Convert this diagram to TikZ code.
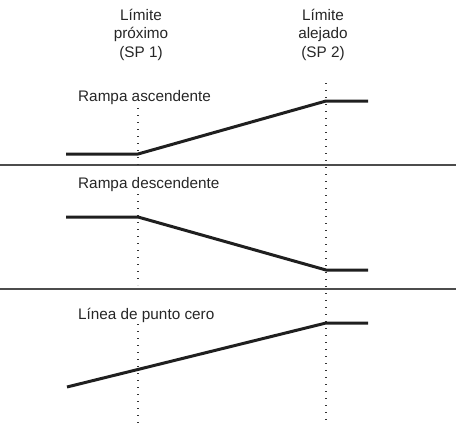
\documentclass[tikz,border=0pt]{standalone}
\usepackage{fontspec}
\setmainfont{Liberation Sans}
\usepackage{tikz}

\begin{document}
\begin{tikzpicture}[x=1pt,y=-1pt]
\tikzstyle{every node}=[font=\fontsize{15.3}{18.5}\selectfont, text=black!85, inner sep=0pt]
\tikzstyle{ramp}=[line width=3pt, black!88]
\tikzstyle{limit}=[line width=1.3pt, black!80, dash pattern=on 1.3pt off 5.7pt]
\tikzstyle{divider}=[line width=1.1pt, black!70]

\useasboundingbox (0,0) rectangle (456,426);

% Draw dividing lines
\draw [divider] (0,165) -- (456,165);
\draw [divider] (0,289) -- (456,289);

% Draw dotted limit lines
\draw [limit] (138,108) -- (138,165);
\draw [limit] (138,194) -- (138,285);
\draw [limit] (138,324) -- (138,423);
\draw [limit] (326,83) -- (326,423);

% Draw ramps
\draw [ramp] (66,154) -- (138,154) -- (326,101) -- (368,101);  % Ascending
\draw [ramp] (66,217) -- (138,217) -- (326,270) -- (368,270);  % Descending
\draw [ramp] (67,387) -- (326,323) -- (368,323);              % Zero point

% Add nodes
\node [align=center, anchor=north] (sp1) at (141,9) {Límite\\próximo\\(SP 1)};
\node [align=center, anchor=north] (sp2) at (323,9) {Límite\\alejado\\(SP 2)};
\node [anchor=base west] (asc) at (78,101) {Rampa ascendente};
\node [anchor=base west] (desc) at (78,188) {Rampa descendente};
\node [anchor=base west] (zero) at (78,319) {Línea de punto cero};

\end{tikzpicture}
\end{document}
